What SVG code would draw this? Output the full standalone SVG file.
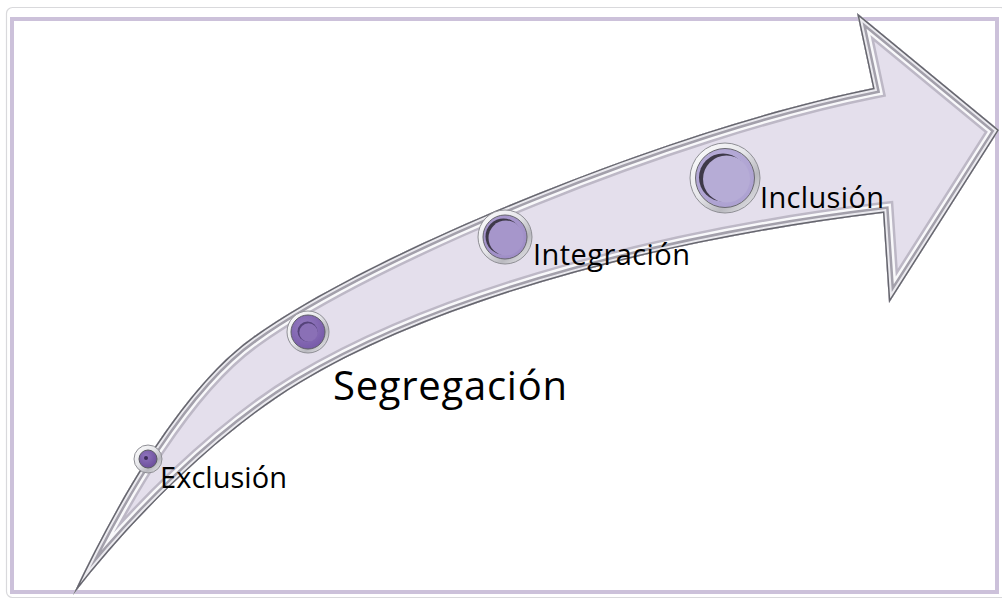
<svg xmlns="http://www.w3.org/2000/svg" width="1002" height="600" viewBox="0 0 1002 600">
<defs>
<style>
.lbl{font-family:"Open Sans","Liberation Sans",sans-serif;fill:#000;font-size:29px}
.big{font-size:40px}
.ring{fill:url(#silver);stroke:#8f8f95;stroke-width:1}
</style>
<linearGradient id="silver" x1="0" y1="0" x2="1" y2="1">
<stop offset="0" stop-color="#ffffff"/>
<stop offset="0.45" stop-color="#e6e6ea"/>
<stop offset="0.7" stop-color="#b9b9bf"/>
<stop offset="1" stop-color="#f4f4f6"/>
</linearGradient>
<radialGradient id="pDark" cx="0.4" cy="0.35" r="0.7">
<stop offset="0" stop-color="#8f74bd"/>
<stop offset="1" stop-color="#6a4c9a"/>
</radialGradient>
<radialGradient id="pMid" cx="0.4" cy="0.35" r="0.7">
<stop offset="0" stop-color="#957cc0"/>
<stop offset="1" stop-color="#7659a8"/>
</radialGradient>
<radialGradient id="pLight" cx="0.45" cy="0.4" r="0.7">
<stop offset="0" stop-color="#b1a3d3"/>
<stop offset="1" stop-color="#9c8ac4"/>
</radialGradient>
<radialGradient id="pPale" cx="0.45" cy="0.4" r="0.7">
<stop offset="0" stop-color="#bdb3dc"/>
<stop offset="1" stop-color="#aa9ecf"/>
</radialGradient>
<path id="arrowShape" d="M 73 595 C 120 495, 185 385, 253 337 C 373 251, 673 128, 873 88 L 857 13 L 999 130 L 889 303 L 883 213 C 683 237, 450 293, 300 383 C 220 431, 133 517, 73 595 Z"/>
<clipPath id="arrowClip"><use href="#arrowShape"/></clipPath>
</defs>
<rect width="1002" height="600" fill="#ffffff"/>
<g id="frame">
<rect x="6.5" y="7.5" width="1000" height="590" rx="6" fill="none" stroke="#d9d9dc" stroke-width="1.2"/>
<rect x="12" y="19" width="985" height="573" fill="none" stroke="#ccc1da" stroke-width="4"/>
</g>
<g id="arrow">
<use href="#arrowShape" fill="#e4dfec"/>
<g clip-path="url(#arrowClip)" fill="none" stroke-linejoin="miter">
<use href="#arrowShape" stroke="#bdb8c6" stroke-width="22"/>
<use href="#arrowShape" stroke="#f8f8fa" stroke-width="17"/>
<use href="#arrowShape" stroke="#a3a0ab" stroke-width="12"/>
<use href="#arrowShape" stroke="#ebeaef" stroke-width="7"/>
<use href="#arrowShape" stroke="#66666e" stroke-width="3"/>
</g>
</g>
<g id="node-exclusion">
<circle class="ring" cx="148" cy="459" r="14"/>
<circle cx="148" cy="459" r="9" fill="url(#pDark)" stroke="#5a5a62" stroke-width="1"/>
<circle cx="146" cy="458" r="2" fill="#3b2b58"/>
<text class="lbl" x="160" y="488" textLength="127">Exclusión</text>
</g>
<g id="node-segregacion">
<circle class="ring" cx="308" cy="332" r="21"/>
<circle cx="308" cy="332" r="17" fill="url(#pMid)" stroke="#5e5e66" stroke-width="1"/>
<circle cx="307.5" cy="331.5" r="10" fill="#55437a"/>
<circle cx="308.5" cy="332.5" r="9.2" fill="#8a70b6"/>
<text class="lbl big" x="333" y="400" textLength="234">Segregación</text>
</g>
<g id="node-integracion">
<circle class="ring" cx="505" cy="237" r="27"/>
<circle cx="505" cy="237" r="22" fill="url(#pLight)" stroke="#66656d" stroke-width="1"/>
<circle cx="503.5" cy="236.5" r="18" fill="#3e3949"/>
<circle cx="506" cy="238" r="17.5" fill="#a696cb"/>
<text class="lbl" x="533" y="265" textLength="157">Integración</text>
</g>
<g id="node-inclusion">
<circle class="ring" cx="725" cy="178" r="35"/>
<circle cx="725" cy="178" r="29.5" fill="url(#pPale)" stroke="#6a6970" stroke-width="1"/>
<circle cx="723" cy="177.5" r="24" fill="#3e3949"/>
<circle cx="726.5" cy="179" r="23.5" fill="#b6acd6"/>
<text class="lbl" x="760" y="208" textLength="124">Inclusión</text>
</g>
</svg>
